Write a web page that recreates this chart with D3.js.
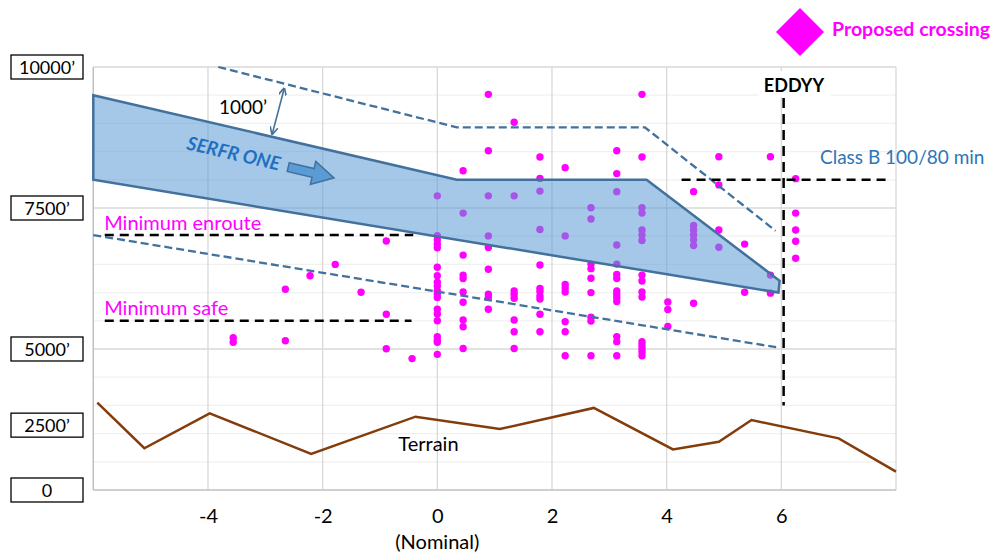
<!DOCTYPE html>
<html>
<head>
<meta charset="utf-8">
<script src="https://cdn.jsdelivr.net/npm/d3@7/dist/d3.min.js"></script>
<style>
	body { margin:0; background:#fff; }
	svg text { font-family: Lato, "Open Sans", sans-serif; }
</style>
</head>
<body>
<div id="canvas"></div>
<script>
/* axis ticks and labels */
var xTicks = [-4, -2, 0, 2, 4, 6];
var xGrid = [-6, -4, -2, 0, 2, 4, 6, 8];
var altLevels = [15, 10, 5, 2.3, 0];
var altLabels = ['10000\u2019', '7500\u2019', '5000\u2019', '2500\u2019', '0'];

/* proposed crossings: one x per column, list of altitudes per column */
var leftX = [-3.56, -2.65, -2.22, -1.78, -1.33, -0.89, -0.44];
var leftAlt = [[5.40, 5.24], [7.12, 5.29], [7.60], [8.00], [7.01], [8.83, 6.23, 5.01], [4.66]];

var colX = [0, 0.45, 0.89, 1.34, 1.79, 2.23, 2.68, 3.13, 3.57, 4.02, 4.47, 4.91, 5.36, 5.81, 6.25];
var colAlt = [
	[10.43, 9.02, 8.87, 8.72, 8.59, 7.90, 7.60, 7.37, 7.23, 7.07, 6.95, 6.83, 6.41, 6.24, 6.00, 5.44, 5.32, 5.24, 4.81],
	[11.32, 9.82, 8.33, 7.62, 7.50, 7.02, 6.66, 6.03, 5.79, 5.02],
	[14.03, 12.03, 10.43, 9.01, 8.60, 7.83, 6.94, 6.83, 6.41],
	[13.04, 10.43, 7.06, 6.93, 6.80, 6.03, 5.61, 5.02],
	[11.81, 11.05, 10.60, 9.24, 7.98, 7.15, 7.04, 6.88, 6.77, 6.23, 5.61],
	[11.43, 9.01, 7.29, 7.16, 7.02, 5.97, 5.61, 4.76],
	[10.01, 9.61, 8.01, 7.85, 7.51, 7.00, 6.13, 5.99, 4.76],
	[12.03, 11.22, 10.58, 8.69, 8.01, 7.64, 7.50, 7.06, 6.93, 6.81, 6.68, 5.44, 5.26, 4.76],
	[14.03, 11.81, 10.01, 9.82, 9.22, 9.04, 8.85, 7.62, 7.41, 7.02, 6.84, 5.26, 5.14, 5.02, 4.90, 4.76],
	[6.67, 6.40, 5.80],
	[10.58, 9.38, 9.22, 9.04, 8.87, 8.67, 6.62],
	[11.82, 10.82, 9.22, 8.61],
	[8.72, 7.01],
	[11.82, 7.62, 6.98],
	[11.04, 9.82, 9.22, 8.82, 8.22]
];

/* terrain profile */
var terrainX = [-5.93, -5.11, -3.97, -2.20, -0.38, 1.09, 2.73, 4.11, 4.91, 5.48, 7.00, 8.0];
var terrainAlt = [3.10, 1.48, 2.72, 1.28, 2.60, 2.16, 2.91, 1.44, 1.71, 2.48, 1.83, 0.65];

/* SERFR ONE corridor and the 1000' buffer lines */
var corridorX = [-6, 0.34, 3.65, 5.97, 5.95, -6];
var corridorAlt = [14.0, 11.0, 11.0, 7.42, 7.0, 11.0];
var upperX = [-3.82, 0.34, 3.62, 5.90];
var upperAlt = [15.0, 12.86, 12.86, 9.19];
var lowerX = [-6, 5.95];
var lowerAlt = [9.04, 5.05];

/* reference levels */
var minEnroute = {x0:-5.8, x1:-0.42, alt:9.04};
var minSafe = {x0:-5.8, x1:-0.45, alt:6.0};
var classB = {x0:4.26, x1:7.91, alt:11.0};
var eddyy = {x:6.04, alt0:3.0, alt1:13.9};

var width = 994, height = 552;

var x = d3.scaleLinear().domain([-6, 8]).range([93.3, 896]);
var y = d3.scaleLinear().domain([0, 15]).range([490, 67]);

var svg = d3.select('#canvas')
	.append('svg')
	.attr('width', width)
	.attr('height', height);

var defs = svg.append('defs');
defs.append('marker')
	.attr('id', 'tip')
	.attr('viewBox', '0 0 10 10')
	.attr('refX', 9)
	.attr('refY', 5)
	.attr('markerWidth', 5)
	.attr('markerHeight', 5)
	.attr('orient', 'auto-start-reverse')
	.append('path')
	.attr('d', 'M0,0 L10,5 L0,10')
	.style('fill', 'none')
	.style('stroke', '#41719c')
	.style('stroke-width', 2);

/* gridlines */
var grid = svg.append('g');

grid.selectAll('.hgrid')
	.data(d3.range(1, 15))
	.enter()
	.append('line')
	.attr('x1', x(-6))
	.attr('x2', x(8))
	.attr('y1', function(d){ return y(d); })
	.attr('y2', function(d){ return y(d); })
	.style('stroke', function(d){ return d % 5 === 0 ? '#d9d9d9' : '#f0f0f0'; })
	.style('stroke-width', 1.3);

grid.selectAll('.vgrid')
	.data(xGrid)
	.enter()
	.append('line')
	.attr('x1', function(d){ return x(d); })
	.attr('x2', function(d){ return x(d); })
	.attr('y1', y(0))
	.attr('y2', y(15))
	.style('stroke', '#d9d9d9')
	.style('stroke-width', 1.3);

grid.append('line')
	.attr('x1', x(-6)).attr('x2', x(8))
	.attr('y1', y(15)).attr('y2', y(15))
	.style('stroke', '#d9d9d9')
	.style('stroke-width', 1.3);

grid.append('line')
	.attr('x1', x(-6)).attr('x2', x(8))
	.attr('y1', y(0)).attr('y2', y(0))
	.style('stroke', '#bfbfbf')
	.style('stroke-width', 1.3);

grid.append('line')
	.attr('x1', x(-6)).attr('x2', x(-6))
	.attr('y1', y(0)).attr('y2', y(15))
	.style('stroke', '#bfbfbf')
	.style('stroke-width', 1.3);

/* x axis labels */
var xAxis = svg.append('g')
	.attr('transform', 'translate(0,' + (y(0) + 16) + ')')
	.call(d3.axisBottom(x)
		.tickValues(xTicks)
		.tickSize(0)
		.tickFormat(function(d){ return String(d); }));
xAxis.select('.domain').remove();
xAxis.selectAll('text')
	.style('font-size', '20px')
	.style('fill', '#000')
	.style('font-family', 'Lato, sans-serif');

svg.append('text')
	.attr('x', x(0))
	.attr('y', 549)
	.attr('text-anchor', 'middle')
	.style('font-size', '20px')
	.text('(Nominal)');

/* y labels in boxes */
var yLab = svg.selectAll('.ylab')
	.data(altLevels)
	.enter()
	.append('g')
	.attr('transform', function(d){ return 'translate(11,' + y(d) + ')'; });

yLab.append('rect')
	.attr('x', 0)
	.attr('y', -12)
	.attr('width', 72)
	.attr('height', 24)
	.style('fill', '#fff')
	.style('stroke', '#000')
	.style('stroke-width', 1.3);

yLab.append('text')
	.attr('x', 36)
	.attr('y', 7)
	.attr('text-anchor', 'middle')
	.style('font-size', '18px')
	.text(function(d, i){ return altLabels[i]; });

/* terrain */
var line = d3.line()
	.x(function(d){ return x(d[0]); })
	.y(function(d){ return y(d[1]); });

svg.append('path')
	.datum(d3.zip(terrainX, terrainAlt))
	.attr('d', line)
	.style('fill', 'none')
	.style('stroke', '#843c0c')
	.style('stroke-width', 2.5);

svg.append('text')
	.attr('x', x(-0.68))
	.attr('y', y(1.38))
	.style('font-size', '20px')
	.text('Terrain');

/* crossings */
var points = [];
leftX.forEach(function(cx, i){
	leftAlt[i].forEach(function(a){ points.push([cx, a]); });
});
colX.forEach(function(cx, i){
	colAlt[i].forEach(function(a){ points.push([cx, a]); });
});

svg.selectAll('.dot')
	.data(points)
	.enter()
	.append('circle')
	.attr('cx', function(d){ return x(d[0]); })
	.attr('cy', function(d){ return y(d[1]); })
	.attr('r', 3.7)
	.style('fill', '#ff00ff');

/* corridor */
svg.append('path')
	.datum(d3.zip(corridorX, corridorAlt))
	.attr('d', function(d){ return line(d) + 'Z'; })
	.style('fill', '#5b9bd5')
	.style('fill-opacity', 0.55)
	.style('stroke', '#41719c')
	.style('stroke-width', 2.5)
	.style('stroke-linejoin', 'miter');

[[upperX, upperAlt], [lowerX, lowerAlt]].forEach(function(s){
	svg.append('path')
		.datum(d3.zip(s[0], s[1]))
		.attr('d', line)
		.style('fill', 'none')
		.style('stroke', '#41719c')
		.style('stroke-width', 2.3)
		.style('stroke-dasharray', '8,4');
});

/* 1000' separation arrow */
svg.append('line')
	.attr('x1', x(-2.67)).attr('y1', y(14.24))
	.attr('x2', x(-2.88)).attr('y2', y(12.62))
	.attr('marker-start', 'url(#tip)')
	.attr('marker-end', 'url(#tip)')
	.style('stroke', '#41719c')
	.style('stroke-width', 1.6);

svg.append('text')
	.attr('x', x(-3.39))
	.attr('y', y(13.58) + 7)
	.attr('text-anchor', 'middle')
	.style('font-size', '19px')
	.text('1000\u2019');

/* SERFR ONE label and block arrow */
svg.append('text')
	.attr('transform', 'translate(' + x(-3.55) + ',' + y(11.95) + ') rotate(13)')
	.attr('text-anchor', 'middle')
	.attr('dy', 7)
	.style('font-size', '19px')
	.style('font-weight', 'bold')
	.style('font-style', 'italic')
	.style('fill', '#1f70c1')
	.text('SERFR ONE');

svg.append('path')
	.attr('transform', 'translate(' + x(-2.6) + ',' + y(11.45) + ') rotate(13.2)')
	.attr('d', 'M0,-4.5 L25.5,-4.5 L25.5,-11.8 L47,0 L25.5,11.8 L25.5,4.5 L0,4.5 Z')
	.style('fill', '#5b9bd5')
	.style('stroke', '#41719c')
	.style('stroke-width', 1.5);

/* reference lines */
[minEnroute, minSafe, classB].forEach(function(r){
	svg.append('line')
		.attr('x1', x(r.x0)).attr('x2', x(r.x1))
		.attr('y1', y(r.alt)).attr('y2', y(r.alt))
		.style('stroke', '#000')
		.style('stroke-width', 2.5)
		.style('stroke-dasharray', '9,6');
});

svg.append('line')
	.attr('x1', x(eddyy.x)).attr('x2', x(eddyy.x))
	.attr('y1', y(eddyy.alt1)).attr('y2', y(eddyy.alt0))
	.style('stroke', '#000')
	.style('stroke-width', 2.5)
	.style('stroke-dasharray', '10,6');

svg.append('text')
	.attr('x', x(-5.81))
	.attr('y', y(9.22))
	.style('font-size', '20px')
	.style('fill', '#ff00ff')
	.text('Minimum enroute');

svg.append('text')
	.attr('x', x(-5.81))
	.attr('y', y(6.2))
	.style('font-size', '20px')
	.style('fill', '#ff00ff')
	.text('Minimum safe');

svg.append('text')
	.attr('x', 820)
	.attr('y', y(11.55))
	.style('font-size', '19px')
	.style('fill', '#2e75b6')
	.text('Class B 100/80 min');

svg.append('rect')
	.attr('x', 759)
	.attr('y', 71)
	.attr('width', 72)
	.attr('height', 26)
	.style('fill', '#fff');

svg.append('text')
	.attr('x', 794)
	.attr('y', 92)
	.attr('text-anchor', 'middle')
	.style('font-size', '18px')
	.style('font-weight', 'bold')
	.text('EDDYY');

/* legend */
var legend = svg.append('g')
	.attr('transform', 'translate(800,32)');

legend.append('path')
	.attr('d', 'M0,-24 L24,0 L0,24 L-24,0 Z')
	.style('fill', '#ff00ff');

legend.append('text')
	.attr('x', 32)
	.attr('y', 4)
	.style('font-size', '19.5px')
	.style('font-weight', 'bold')
	.style('fill', '#ff00ff')
	.text('Proposed crossing');
</script>
</body>
</html>
